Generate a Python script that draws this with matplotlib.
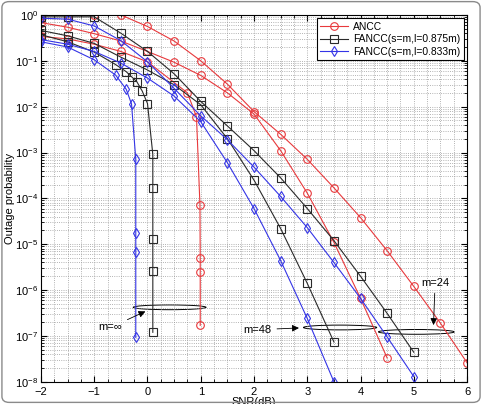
import numpy as np
import matplotlib
matplotlib.use("Agg")
import matplotlib.pyplot as plt
from matplotlib.patches import Ellipse, FancyBboxPatch
from matplotlib.ticker import LogLocator, MultipleLocator, NullFormatter

plt.rcParams["font.family"] = ["Liberation Sans", "DejaVu Sans"]
plt.rcParams["mathtext.fontset"] = "custom"
plt.rcParams["mathtext.rm"] = "Liberation Sans"
plt.rcParams["mathtext.it"] = "Liberation Sans:italic"
plt.rcParams["mathtext.bf"] = "Liberation Sans:bold"

# ANCC (red)
ancc_m24_x = [-2, -1.5, -1, -0.5, 0, 0.5, 1, 1.5, 2, 2.5, 3, 3.5, 4, 4.5, 5, 5.5, 6]
ancc_m24_y = [1, 1, 1, 1, 0.56, 0.27, 0.10, 0.031, 7.8e-3, 2.5e-3, 7.1e-4, 1.7e-4,
              3.8e-5, 7.2e-6, 1.2e-6, 1.9e-7, 2.6e-8]
ancc_m48_x = [-2, -1.5, -1, -0.5, 0, 0.5, 1, 1.5, 2, 2.5, 3, 3.5, 4, 4.5]
ancc_m48_y = [0.68, 0.54, 0.39, 0.27, 0.16, 0.093, 0.048, 0.020, 6.9e-3, 1.1e-3,
              1.3e-4, 1.1e-5, 6.6e-7, 3.3e-8]
ancc_inf_x = [-2, -1.5, -1, -0.5, 0, 0.75, 0.92, 0.985, 0.99, 0.99, 0.99]
ancc_inf_y = [0.34, 0.30, 0.23, 0.16, 0.095, 0.020, 6.0e-3, 7.1e-5, 4.9e-6, 2.5e-6, 1.7e-7]

# FANCC l=0.875m (black)
f875_m24_x = [-2, -1.5, -1, -0.5, 0, 0.5, 1, 1.5, 2, 2.5, 3, 3.5, 4, 4.5, 5]
f875_m24_y = [0.91, 0.91, 0.91, 0.40, 0.16, 0.052, 0.013, 3.8e-3, 1.1e-3, 2.8e-4,
              6.0e-5, 1.2e-5, 2.0e-6, 3.1e-7, 4.4e-8]
f875_m48_x = [-2, -1.5, -1, -0.5, 0, 0.5, 1, 1.5, 2, 2.5, 3, 3.5]
f875_m48_y = [0.46, 0.35, 0.24, 0.12, 0.063, 0.030, 0.011, 2.0e-3, 2.5e-4, 2.2e-5,
              1.4e-6, 7.4e-8]
f875_inf_x = [-2, -1.5, -1, -0.6, -0.4, -0.3, -0.2, -0.1, 0.0, 0.1, 0.1, 0.1, 0.1, 0.1]
f875_inf_y = [0.37, 0.26, 0.155, 0.083, 0.058, 0.045, 0.035, 0.022, 0.0117, 9.1e-4,
              1.7e-4, 1.3e-5, 2.6e-6, 1.2e-7]

# FANCC l=0.833m (blue)
f833_m24_x = [-2, -1.5, -1, -0.5, 0, 0.5, 1, 1.5, 2, 2.5, 3, 3.5, 4, 4.5, 5]
f833_m24_y = [0.85, 0.81, 0.575, 0.275, 0.095, 0.025, 6.3e-3, 1.9e-3, 4.8e-4, 1.1e-4,
              2.3e-5, 4.0e-6, 6.6e-7, 9.5e-8, 1.3e-8]
f833_m48_x = [-2, -1.5, -1, -0.5, 0, 0.5, 1, 1.5, 2, 2.5, 3, 3.5]
f833_m48_y = [0.29, 0.23, 0.16, 0.089, 0.042, 0.017, 4.7e-3, 6.0e-4, 6.0e-5, 4.4e-6,
              2.4e-7, 1.0e-8]
f833_inf_x = [-2, -1.5, -1, -0.6, -0.4, -0.3, -0.22, -0.22, -0.22, -0.22]
f833_inf_y = [0.26, 0.20, 0.105, 0.049, 0.024, 0.0115, 7.1e-4, 1.8e-5, 6.9e-6, 9.3e-8]

RED, BLK, BLU = "#e8393c", "#2a2a2a", "#3434e6"
labels = ["ANCC", "FANCC(s=m,l=0.875m)", "FANCC(s=m,l=0.833m)"]

fig = plt.figure(figsize=(4.82, 4.04), dpi=100)
ax = fig.add_axes([0.085, 0.055, 0.884, 0.908])

kw = dict(lw=0.8, ms=5.5, mfc="none", mew=0.8)
sets = [(RED, "o", [(ancc_m24_x, ancc_m24_y), (ancc_m48_x, ancc_m48_y), (ancc_inf_x, ancc_inf_y)]),
        (BLK, "s", [(f875_m24_x, f875_m24_y), (f875_m48_x, f875_m48_y), (f875_inf_x, f875_inf_y)]),
        (BLU, "d", [(f833_m24_x, f833_m24_y), (f833_m48_x, f833_m48_y), (f833_inf_x, f833_inf_y)])]
for (c, mk, curves), lab in zip(sets, labels):
    for i, (xs, ys) in enumerate(curves):
        ax.plot(xs, ys, color=c, marker=mk, mec=c, label=lab if i == 0 else None, **kw)

ax.set_yscale("log")
ax.set_xlim(-2, 6)
ax.set_ylim(1e-8, 1)
ax.xaxis.set_major_locator(MultipleLocator(1))
ax.xaxis.set_minor_locator(MultipleLocator(0.25))
ax.yaxis.set_major_locator(LogLocator(base=10, numticks=20))
ax.yaxis.set_minor_locator(LogLocator(base=10, subs=np.arange(2, 10), numticks=20))
ax.yaxis.set_minor_formatter(NullFormatter())
ax.tick_params(which="both", direction="in", top=True, right=True, labelsize=8)
ax.tick_params(axis="y", pad=2)
ax.tick_params(axis="x", pad=4)
ax.tick_params(which="major", length=4)
ax.tick_params(which="minor", length=2)
ax.grid(True, which="both", ls=":", lw=0.6, color="#9a9a9a")
for s in ax.spines.values():
    s.set_linewidth(0.8)
ax.set_xlabel("SNR(dB)", fontsize=8, labelpad=0)
ax.set_ylabel("Outage probability", fontsize=8)
ax.yaxis.set_label_coords(-0.062, 0.5)

leg = ax.legend(loc="upper right", fontsize=7.4, fancybox=False, framealpha=1,
                edgecolor="black", borderaxespad=0.3, handlelength=2.7,
                handletextpad=0.5, borderpad=0.35, labelspacing=0.25)
leg.get_frame().set_linewidth(0.8)

# group ellipses and annotations
for cx, cy, w in [(0.302, 0.203, 0.171), (0.702, 0.148, 0.172), (0.881, 0.136, 0.178)]:
    ax.add_patch(Ellipse((cx, cy), w, 0.013, transform=ax.transAxes,
                         fill=False, ec="black", lw=0.7))
arw = dict(arrowstyle="-|>", color="black", lw=0.6, mutation_scale=10)
ax.annotate("m=\u221e", xy=(0.251, 0.195), xytext=(0.135, 0.148),
            xycoords="axes fraction", textcoords="axes fraction", fontsize=8,
            va="center", arrowprops=arw)
ax.annotate("m=48", xy=(0.612, 0.147), xytext=(0.475, 0.142),
            xycoords="axes fraction", textcoords="axes fraction", fontsize=8,
            va="center", arrowprops=arw)
ax.annotate("m=24", xy=(0.921, 0.147), xytext=(0.925, 0.270),
            xycoords="axes fraction", textcoords="axes fraction", fontsize=8,
            va="center", ha="center", arrowprops=arw)

fig.patches.append(FancyBboxPatch((0.004, 0.004), 0.992, 0.992, boxstyle="round,pad=0,rounding_size=0.015",
                                  transform=fig.transFigure, fill=False, ec="#8a8a8a", lw=1.0))
fig.savefig("out.png", dpi=100)
